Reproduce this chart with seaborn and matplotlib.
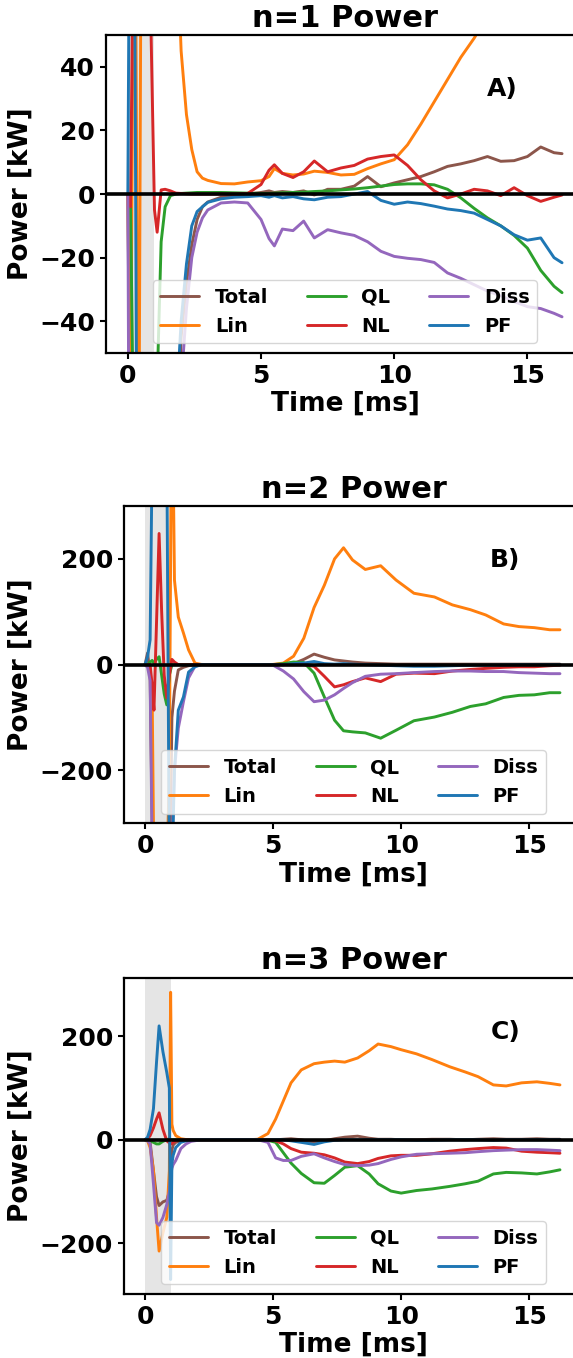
import numpy as np
import pandas as pd
import matplotlib
matplotlib.use("Agg")
import matplotlib.pyplot as plt
import seaborn as sns

sns.set_style("ticks")
plt.rcParams["font.family"] = ["DejaVu Sans"]
plt.rcParams["font.weight"] = "bold"
for key in ["text.color", "axes.labelcolor", "xtick.color", "ytick.color",
            "axes.edgecolor"]:
    plt.rcParams[key] = "black"

# ── data ──────────────────────────────────────────────────────────────────────
labels = ["Total", "Lin", "QL", "NL", "Diss", "PF"]
colors = ["#8c564b", "#ff7f0e", "#2ca02c", "#d62728", "#9467bd", "#1f77b4"]

# n=1
t1 = [0, 0.1, 0.25, 0.4, 0.55, 0.7, 0.85, 1.0, 1.1, 1.25, 1.4, 1.6, 1.8, 2.0,
      2.2, 2.4, 2.6, 2.8, 3.0, 3.5, 4.0, 4.5, 5.0, 5.3, 5.5, 5.8, 6.2, 6.6,
      7.0, 7.5, 8.0, 8.5, 9.0, 9.5, 10.0, 10.5, 11.0, 11.5, 12.0, 12.5, 13.0,
      13.5, 14.0, 14.5, 15.0, 15.5, 16.0, 16.3]
total1 = [0, -100, -250, -500, -550, -450, -400, -300, -280, -250, -200, -150,
          -90, -45, -28, -16, -8, -4, -2.5, -1.0, -0.5, 0, 0.5, 1.0, 0.5, 0.8,
          0.5, 1.0, -0.3, 1.5, 1.5, 2.5, 5.5, 2.3, 3.5, 4.5, 5.5, 7.0, 8.7, 9.5,
          10.5, 11.8, 10.3, 10.5, 11.8, 14.8, 13.0, 12.7]
lin1 = [0, -80, 150, -120, 200, 260, 300, 320, 300, 260, 200, 140, 90, 45,
        25, 14, 7, 5, 4.3, 3.3, 3.2, 3.8, 4.2, 5.5, 8, 6.5, 6.0, 6.3, 7.2, 6.8,
        6.0, 6.2, 8.0, 9.5, 10.8, 15.5, 22, 29, 36, 43, 49, 56, 62, 68, 74, 80,
        85, 88]
ql1 = [0, -3, -100, -250, -300, -300, -250, -150, -60, -15, -4, -0.5, 0, 0.2,
       0.3, 0.4, 0.5, 0.5, 0.5, 0.5, 0.4, 0.3, 0.2, 0.2, 0.3, 0.4, 0.5, 0.6,
       0.8, 1.0, 1.3, 1.6, 2.0, 2.5, 3.0, 3.2, 3.2, 2.9, 1.5, -1.2, -4.5, -7.5,
       -10, -13, -17, -24, -29, -31]
nl1 = [0, -4, 120, 100, 90, 100, 60, -5, -12, 1.3, 1.5, 1.0, 0.3, 0.2, 0.1,
       0, 0, 0, 0, 0, 0, 0.2, 3, 7.5, 9.2, 6.5, 5.2, 7.0, 10.4, 7.0, 8.2, 9.0,
       11.0, 11.8, 12.3, 9, 4.5, 1.0, -1.2, 0, 1.5, 1.0, -0.5, 2.0, -0.5, -2.3,
       -1.0, -0.3]
diss1 = [0, -200, -400, -450, -450, -420, -400, -380, -350, -300, -250, -180,
         -110, -60, -36, -20, -12, -7.5, -5, -2.8, -2.5, -2.8, -8, -14, -16.3,
         -11, -11.5, -8.5, -13.8, -11.2, -12.2, -13, -15, -18, -19.6, -20.2,
         -20.6, -21.5, -24.8, -26.5, -28.5, -30.5, -32, -33.8, -35.4, -36,
         -37.5, -38.6]
pf1 = [0, 150, 80, -200, -300, -350, -350, -300, -250, -200, -150, -110, -70,
       -40, -22, -10, -5.5, -4, -2.6, -1.5, -1.0, -0.8, -0.5, -1, -0.5, -1.2,
       -0.8, -1.5, -1.8, -1.0, -0.8, 0, 0.8, -2.0, -3.2, -2.5, -3.0, -3.8,
       -4.7, -5.2, -6.0, -8, -10, -12.8, -14.5, -13.8, -20, -21.6]

# n=2
t2 = [0, 0.1, 0.2, 0.28, 0.35, 0.45, 0.55, 0.65, 0.75, 0.85, 0.95, 1.05, 1.15,
      1.3, 1.5, 1.7, 1.95, 2.2, 2.6, 3.0, 3.5, 4.0, 4.5, 5.0, 5.4, 5.8, 6.2,
      6.6, 7.0, 7.4, 7.75, 8.1, 8.6, 9.2, 9.8, 10.5, 11.3, 12.0, 12.7, 13.3,
      14.0, 14.6, 15.2, 15.8, 16.2]
total2 = [0, 22, -20, -300, -500, -500, -400, -450, -500, -450, -500, -100,
          -50, -10, -5, -2, 0, 0, 0, 0, 0, 0, 0, 0, 0, 2, 10, 20, 14, 9, 7, 5,
          3, 2, 1, 1, 1, 1, 1, 1, 1, 1, 1, 1, 1]
lin2 = [0, 0, -10, -60, -400, -500, -500, -450, -400, -400, -200, 600, 160,
        90, 60, 28, 3, 0.5, 0, 0, 0, 0, 0, 0.5, 3, 16, 50, 108, 150, 200, 221,
        198, 180, 187, 160, 135, 128, 113, 104, 94, 77, 72, 70, 66, 66]
ql2 = [0, 0, 5, 8, 3, 10, 15, -20, -55, -76, -20, 0, 0, 0, 0, 0, 0, 0, 0, 0,
       0, 0, 0, 0, 2, 5, 4, -16, -61, -105, -125, -127, -129, -139, -124,
       -106, -99, -90, -79, -74, -62, -58, -57, -53, -53]
nl2 = [0, 0, 0, -40, -86, 80, 248, 100, -20, -63, -20, 10, 5, 0, 0, 0, 0, 0,
       0, 0, 0, 0, 0, 0, 0, 0, 0, -3, -22, -42, -38, -32, -25, -32, -18, -16,
       -17, -12, -9, -7, -5, -4, -4, -2, -1]
diss2 = [0, -5, -30, -350, -500, -600, -600, -600, -550, -500, -450, -350,
         -200, -120, -70, -25, -3, 0, 0, 0, 0, 0, 0, -1, -12, -27, -51, -70,
         -67, -57, -45, -34, -22, -18, -17, -15, -13, -12, -12, -13, -13, -15,
         -16, -17, -17]
pf2 = [0, 15, 47, 400, 500, 500, 480, 450, 450, 420, -400, -400, -200, -86,
       -61, -14, -4, 0, 0, 0, 0, 0, 0, 0, 0, 2, 3, 6, 2, 1, 2, 1, 0, -1, -2,
       -3, -3, -2, -1, -1, -0.5, 0, 0, 0, 0]

# n=3
t3 = [0, 0.1, 0.2, 0.33, 0.45, 0.55, 0.7, 0.85, 0.95, 1.0, 1.05, 1.1, 1.2,
      1.4, 1.6, 1.8, 2.2, 2.6, 3.0, 3.5, 4.0, 4.4, 4.8, 5.1, 5.4, 5.7, 6.1,
      6.6, 7.0, 7.4, 7.8, 8.3, 8.75, 9.1, 9.6, 10.0, 10.6, 11.2, 11.9, 12.5,
      13.0, 13.6, 14.1, 14.7, 15.3, 15.8, 16.2]
total3 = [0, 0, -5, -60, -110, -127, -120, -117, -100, -60, -20, -10, -5, -2,
          0, 0, 0, 0, 0, 0, 0, 0, 0, 0, 1, 2, 0, -5, -2, 2, 5, 7, 3, 1, 1, 0,
          0, 1, 1, 0, 1, 2, 1, 1, 2, 1, 1]
lin3 = [0, -2, -15, -59, -150, -215, -180, -150, -60, 285, 30, 18, 8, 2, 0.5,
        0, 0, 0, 0, 0, 0, 1, 12, 40, 75, 110, 135, 147, 150, 152, 150, 158,
        172, 185, 180, 174, 166, 155, 141, 131, 122, 106, 104, 110, 112, 109,
        106]
ql3 = [0, 0, -2, -5, -8, -8, -3, 0, 2, 0, 0, 0, 0, 0, 0, 0, 0, 0, 0, 0, 0, 0,
       -1, -5, -25, -45, -65, -83, -84, -69, -53, -50, -66, -85, -99, -103,
       -98, -95, -90, -85, -80, -66, -63, -64, -66, -62, -58]
nl3 = [0, 2, 8, 23, 40, 52, 20, -2, -6, -8, -8, -5, -2, 0, 0, 0, 0, 0, 0, 0,
       0, 0, 0, -2, -8, -17, -24, -26, -29, -35, -43, -46, -42, -36, -31, -30,
       -30, -27, -22, -19, -17, -15, -16, -22, -24, -25, -26]
diss3 = [0, -2, -8, -85, -160, -165, -150, -125, -100, -70, -55, -48, -40,
         -17, -8, -3, 0, 0, 0, 0, 0, 0, -5, -35, -40, -40, -32, -27, -35, -42,
         -48, -50, -49, -46, -38, -33, -28, -27, -26, -25, -23, -21, -20, -19,
         -19, -20, -21]
pf3 = [0, 5, 20, 60, 150, 220, 170, 130, 100, -270, -46, -30, -15, -5, -2, 0,
       0, 0, 0, 0, 0, 0, 0, 0, 0, -2, -5, -9, -4, -1, 0, 0, 0, 0, 0, 0, -1,
       -1, 0, 0, 0, -1, 0, 0, 0, 0, 0]

# axes run a few px past the right edge of the canvas, as in the source
panels = [
    ("n=1 Power", "A)", t1, [total1, lin1, ql1, nl1, diss1, pf1],
     [0.185, 0.740, 0.834, 0.2342], (-50, 50), [-40, -20, 0, 20, 40]),
    ("n=2 Power", "B)", t2, [total2, lin2, ql2, nl2, diss2, pf2],
     [0.2164, 0.3937, 0.802, 0.2337], (-300, 300), [-200, 0, 200]),
    ("n=3 Power", "C)", t3, [total3, lin3, ql3, nl3, diss3, pf3],
     [0.2164, 0.0471, 0.802, 0.2329], (-298, 313), [-200, 0, 200]),
]

fig = plt.figure(figsize=(5.73, 13.58), dpi=100)

for title, tag, t, series, pos, ylim, yticks in panels:
    ax = fig.add_axes(pos)
    ax.axvspan(0, 1.0, color="gray", alpha=0.2, lw=0)
    for name, col, vals in zip(labels, colors, series):
        sns.lineplot(x=t, y=vals, color=col, lw=2.1, label=name, ax=ax)
    ax.axhline(0, color="black", lw=2.6, zorder=3)

    ax.set_xlim(-0.82, 17.12)
    ax.set_ylim(*ylim)
    ax.set_xticks([0, 5, 10, 15])
    ax.set_yticks(yticks)
    ax.tick_params(labelsize=18, width=1.5, length=4.5)
    for lab in ax.get_xticklabels() + ax.get_yticklabels():
        lab.set_fontweight("bold")
    for sp in ax.spines.values():
        sp.set_linewidth(1.6)

    ax.set_title(title, fontsize=22, fontweight="bold")
    ax.set_xlabel("Time [ms]", fontsize=19, fontweight="bold", labelpad=2)
    ax.set_ylabel("Power [kW]", fontsize=19, fontweight="bold")
    ax.text(0.83, 0.83, tag, transform=ax.transAxes, fontsize=18,
            fontweight="bold", ha="center", va="center")
    ax.legend(loc="lower center", ncol=3, prop={"size": 14, "weight": "bold"})

fig.savefig("out.png", dpi=100)
plt.close(fig)
